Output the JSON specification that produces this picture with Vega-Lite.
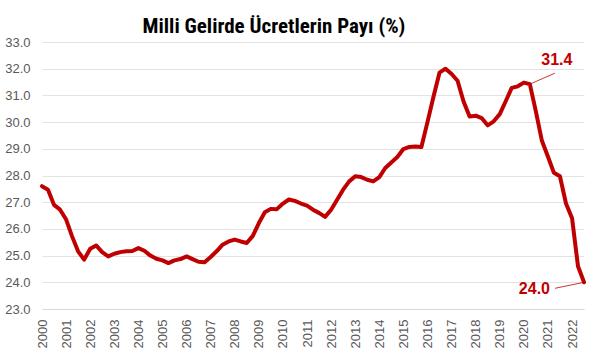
{
  "$schema": "https://vega.github.io/schema/vega-lite/v6.json",
  "autosize": {"type": "none"},
  "width": 542,
  "height": 267,
  "padding": {"left": 42, "top": 42, "right": 16, "bottom": 52},
  "background": "white",
  "config": {"view": {"stroke": null}},
  "title": {
    "text": "Milli Gelirde Ücretlerin Payı (%)",
    "font": "Liberation Sans Narrow, Roboto Condensed, Roboto",
    "fontSize": 21,
    "fontWeight": "bold",
    "color": "#000000",
    "anchor": "middle",
    "dx": -39,
    "offset": -1
  },
  "data": {
    "values": [
      {"date": "2000-01-01", "v": 27.6}, {"date": "2000-04-01", "v": 27.47}, {"date": "2000-07-01", "v": 26.9}, {"date": "2000-10-01", "v": 26.72},
      {"date": "2001-01-01", "v": 26.35}, {"date": "2001-04-01", "v": 25.72}, {"date": "2001-07-01", "v": 25.16}, {"date": "2001-10-01", "v": 24.85},
      {"date": "2002-01-01", "v": 25.26}, {"date": "2002-04-01", "v": 25.38}, {"date": "2002-07-01", "v": 25.13}, {"date": "2002-10-01", "v": 24.97},
      {"date": "2003-01-01", "v": 25.07}, {"date": "2003-04-01", "v": 25.13}, {"date": "2003-07-01", "v": 25.16}, {"date": "2003-10-01", "v": 25.17},
      {"date": "2004-01-01", "v": 25.28}, {"date": "2004-04-01", "v": 25.18}, {"date": "2004-07-01", "v": 25.0}, {"date": "2004-10-01", "v": 24.88},
      {"date": "2005-01-01", "v": 24.82}, {"date": "2005-04-01", "v": 24.72}, {"date": "2005-07-01", "v": 24.82}, {"date": "2005-10-01", "v": 24.87},
      {"date": "2006-01-01", "v": 24.97}, {"date": "2006-04-01", "v": 24.87}, {"date": "2006-07-01", "v": 24.77}, {"date": "2006-10-01", "v": 24.75},
      {"date": "2007-01-01", "v": 24.95}, {"date": "2007-04-01", "v": 25.16}, {"date": "2007-07-01", "v": 25.41}, {"date": "2007-10-01", "v": 25.53},
      {"date": "2008-01-01", "v": 25.6}, {"date": "2008-04-01", "v": 25.53}, {"date": "2008-07-01", "v": 25.47}, {"date": "2008-10-01", "v": 25.74},
      {"date": "2009-01-01", "v": 26.22}, {"date": "2009-04-01", "v": 26.62}, {"date": "2009-07-01", "v": 26.75}, {"date": "2009-10-01", "v": 26.74},
      {"date": "2010-01-01", "v": 26.95}, {"date": "2010-04-01", "v": 27.1}, {"date": "2010-07-01", "v": 27.05}, {"date": "2010-10-01", "v": 26.95},
      {"date": "2011-01-01", "v": 26.87}, {"date": "2011-04-01", "v": 26.72}, {"date": "2011-07-01", "v": 26.6}, {"date": "2011-10-01", "v": 26.45},
      {"date": "2012-01-01", "v": 26.72}, {"date": "2012-04-01", "v": 27.09}, {"date": "2012-07-01", "v": 27.47}, {"date": "2012-10-01", "v": 27.78},
      {"date": "2013-01-01", "v": 27.97}, {"date": "2013-04-01", "v": 27.94}, {"date": "2013-07-01", "v": 27.84}, {"date": "2013-10-01", "v": 27.78},
      {"date": "2014-01-01", "v": 27.94}, {"date": "2014-04-01", "v": 28.28}, {"date": "2014-07-01", "v": 28.49}, {"date": "2014-10-01", "v": 28.69},
      {"date": "2015-01-01", "v": 28.99}, {"date": "2015-04-01", "v": 29.07}, {"date": "2015-07-01", "v": 29.09}, {"date": "2015-10-01", "v": 29.07},
      {"date": "2016-01-01", "v": 30.0}, {"date": "2016-04-01", "v": 30.95}, {"date": "2016-07-01", "v": 31.85}, {"date": "2016-10-01", "v": 32.0},
      {"date": "2017-01-01", "v": 31.8}, {"date": "2017-04-01", "v": 31.55}, {"date": "2017-07-01", "v": 30.77}, {"date": "2017-10-01", "v": 30.21},
      {"date": "2018-01-01", "v": 30.24}, {"date": "2018-04-01", "v": 30.15}, {"date": "2018-07-01", "v": 29.88}, {"date": "2018-10-01", "v": 30.03},
      {"date": "2019-01-01", "v": 30.3}, {"date": "2019-04-01", "v": 30.78}, {"date": "2019-07-01", "v": 31.28}, {"date": "2019-10-01", "v": 31.34},
      {"date": "2020-01-01", "v": 31.48}, {"date": "2020-04-01", "v": 31.42}, {"date": "2020-07-01", "v": 30.4}, {"date": "2020-10-01", "v": 29.3},
      {"date": "2021-01-01", "v": 28.7}, {"date": "2021-04-01", "v": 28.1}, {"date": "2021-07-01", "v": 27.97}, {"date": "2021-10-01", "v": 26.95},
      {"date": "2022-01-01", "v": 26.4}, {"date": "2022-04-01", "v": 24.6}, {"date": "2022-07-01", "v": 24.0}
    ]
  },
  "encoding": {
    "x": {
      "field": "date",
      "type": "temporal",
      "scale": {"type": "utc"},
      "axis": {
        "title": null,
        "tickCount": {"interval": "year", "step": 1},
        "format": "%Y",
        "labelAngle": -90,
        "labelOverlap": false,
        "labelFlush": false,
        "labelFont": "Liberation Sans",
        "labelFontSize": 13,
        "labelColor": "#595959",
        "labelPadding": 10,
        "ticks": false,
        "grid": false,
        "domain": true,
        "domainColor": "#d9d9d9",
        "domainWidth": 1
      }
    },
    "y": {
      "field": "v",
      "type": "quantitative",
      "scale": {"domain": [23, 33], "nice": false, "zero": false},
      "axis": {
        "title": null,
        "values": [23, 24, 25, 26, 27, 28, 29, 30, 31, 32, 33],
        "format": ".1f",
        "labelFont": "Liberation Sans",
        "labelFontSize": 13,
        "labelColor": "#595959",
        "labelPadding": 12,
        "ticks": false,
        "domain": false,
        "grid": true,
        "gridColor": "#e3e3e3",
        "gridWidth": 1
      }
    }
  },
  "layer": [
    {
      "mark": {"type": "line", "color": "#c00000", "strokeWidth": 4, "strokeJoin": "round", "strokeCap": "round"}
    },
    {
      "transform": [{"filter": "datum.v == 31.42"}],
      "mark": {"type": "rule", "color": "#c00000", "strokeWidth": 0.8, "x2Offset": 25, "y2Offset": -11},
      "encoding": {"x2": {"field": "date"}, "y2": {"field": "v"}}
    },
    {
      "transform": [{"filter": "datum.v == 24.0"}],
      "mark": {"type": "rule", "color": "#c00000", "strokeWidth": 0.8, "x2Offset": -29, "y2Offset": 6},
      "encoding": {"x2": {"field": "date"}, "y2": {"field": "v"}}
    },
    {
      "transform": [{"filter": "datum.v == 31.42"}],
      "mark": {"type": "text", "color": "#c00000", "font": "Liberation Sans", "fontSize": 16, "fontWeight": "bold", "align": "center", "baseline": "middle", "dx": 27, "dy": -24},
      "encoding": {"text": {"field": "v", "type": "quantitative", "format": ".1f"}}
    },
    {
      "transform": [{"filter": "datum.v == 24.0"}],
      "mark": {"type": "text", "color": "#c00000", "font": "Liberation Sans", "fontSize": 16, "fontWeight": "bold", "align": "right", "baseline": "middle", "dx": -34, "dy": 7},
      "encoding": {"text": {"field": "v", "type": "quantitative", "format": ".1f"}}
    }
  ]
}
